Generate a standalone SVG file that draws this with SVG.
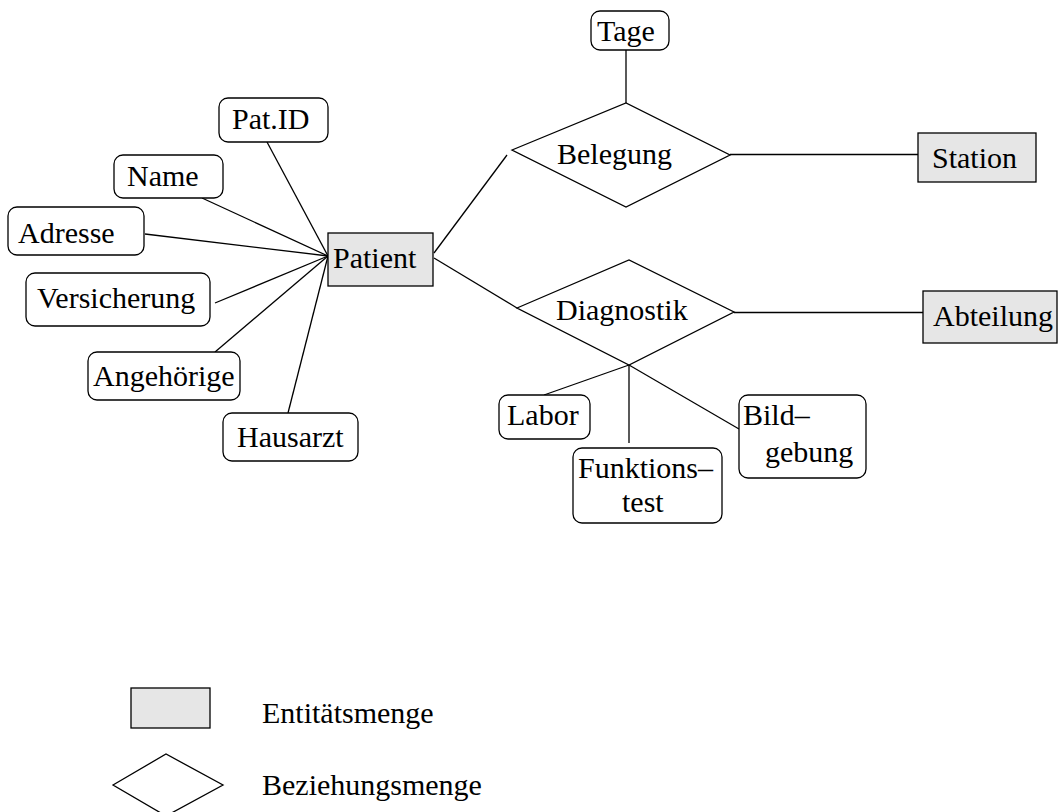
<svg xmlns="http://www.w3.org/2000/svg" width="1058" height="812" viewBox="0 0 1058 812">
  <style>
    .attr { fill: #fff; stroke: #000; stroke-width: 1.3; }
    .entity { fill: #e6e6e6; stroke: #000; stroke-width: 1.3; }
    .rel { fill: #fff; stroke: #000; stroke-width: 1.3; }
    .conn line { stroke: #000; stroke-width: 1.3; }
  </style>
  <rect width="1058" height="812" fill="#fff"/>

  <!-- connectors -->
  <g id="connectors" class="conn">
    <line x1="267" y1="142" x2="328" y2="256"/>
    <line x1="202" y1="198" x2="328" y2="256"/>
    <line x1="145" y1="234" x2="328" y2="256"/>
    <line x1="215" y1="303" x2="328" y2="256"/>
    <line x1="215" y1="352" x2="328" y2="256"/>
    <line x1="288" y1="413" x2="328" y2="256"/>
    <line x1="434" y1="253" x2="507" y2="155"/>
    <line x1="434" y1="258" x2="517" y2="308"/>
    <line x1="626" y1="50" x2="626" y2="103"/>
    <line x1="730" y1="154.5" x2="918" y2="154.5"/>
    <line x1="734" y1="312.5" x2="923" y2="312.5"/>
    <line x1="629" y1="365" x2="544" y2="395"/>
    <line x1="629" y1="365" x2="629" y2="443"/>
    <line x1="629" y1="365" x2="739" y2="429"/>
  </g>

  <g font-family="'Liberation Serif', 'DejaVu Serif', serif" font-size="30" fill="#000">
  <!-- attributes of Patient -->
  <g id="attr-patid">
    <rect class="attr" x="219" y="98" width="109" height="44" rx="9"/>
    <text x="232" y="129">Pat.ID</text>
  </g>
  <g id="attr-name">
    <rect class="attr" x="114" y="155" width="109" height="43" rx="9"/>
    <text x="127" y="186">Name</text>
  </g>
  <g id="attr-adresse">
    <rect class="attr" x="8" y="207" width="136" height="48" rx="9"/>
    <text x="18" y="243">Adresse</text>
  </g>
  <g id="attr-versicherung">
    <rect class="attr" x="26" y="273" width="184" height="53" rx="9"/>
    <text x="37" y="308">Versicherung</text>
  </g>
  <g id="attr-angehoerige">
    <rect class="attr" x="88" y="352" width="152" height="48" rx="9"/>
    <text x="93" y="386">Angehörige</text>
  </g>
  <g id="attr-hausarzt">
    <rect class="attr" x="223" y="413" width="135" height="48" rx="9"/>
    <text x="237" y="447">Hausarzt</text>
  </g>

  <!-- entity sets -->
  <g id="patient">
    <rect class="entity" x="328" y="233" width="105" height="53"/>
    <text x="333" y="268">Patient</text>
  </g>
  <g id="station">
    <rect class="entity" x="918" y="133" width="118" height="49"/>
    <text x="932" y="168">Station</text>
  </g>
  <g id="abteilung">
    <rect class="entity" x="923" y="291" width="134" height="52"/>
    <text x="933" y="326">Abteilung</text>
  </g>

  <!-- relationship: Belegung -->
  <g id="tage">
    <rect class="attr" x="591" y="11" width="78" height="39" rx="9"/>
    <text x="597" y="41">Tage</text>
  </g>
  <g id="belegung">
    <polygon class="rel" points="512,150 626,103 730,155 626,207"/>
    <text x="557" y="164">Belegung</text>
  </g>

  <!-- relationship: Diagnostik -->
  <g id="diagnostik">
    <polygon class="rel" points="517,308 629,260 734,312 629,365"/>
    <text x="556" y="320">Diagnostik</text>
  </g>
  <g id="labor">
    <rect class="attr" x="499" y="395" width="91" height="44" rx="9"/>
    <text x="507" y="425">Labor</text>
  </g>
  <g id="funktionstest">
    <rect class="attr" x="573" y="448" width="149" height="75" rx="9"/>
    <text x="578" y="478">Funktions–</text>
    <text x="622" y="512">test</text>
  </g>
  <g id="bildgebung">
    <rect class="attr" x="739" y="395" width="127" height="83" rx="9"/>
    <text x="743" y="425">Bild–</text>
    <text x="765" y="462">gebung</text>
  </g>

  <!-- legend -->
  <g id="legend-entity">
    <rect class="entity" x="131" y="688" width="79" height="40"/>
    <text x="262" y="723">Entitätsmenge</text>
  </g>
  <g id="legend-relationship">
    <polygon class="rel" points="113,785 166,754 223,785 166,816"/>
    <text x="262" y="795">Beziehungsmenge</text>
  </g>
  </g>
</svg>
